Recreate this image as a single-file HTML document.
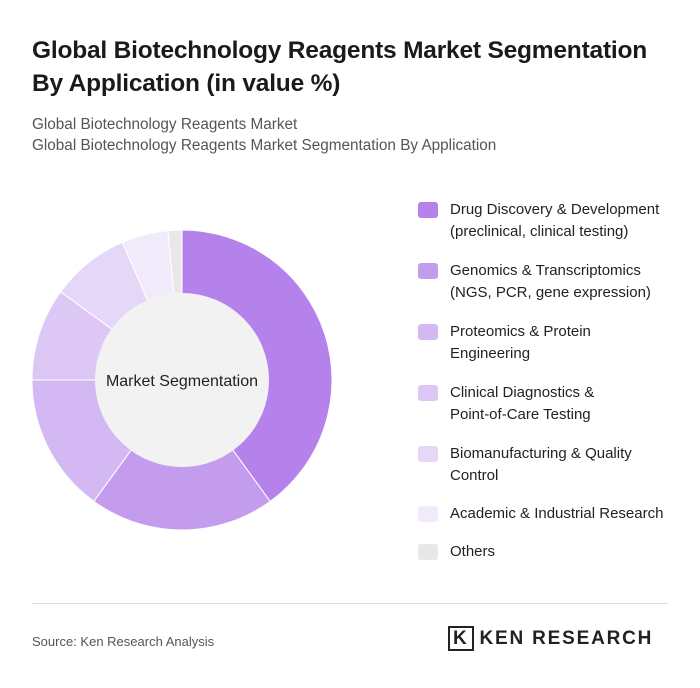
<!DOCTYPE html>
<html><head><meta charset="utf-8"><style>
body{margin:0;width:700px;height:688px;background:#fff;font-family:"Liberation Sans",sans-serif;position:relative;overflow:hidden}
.t{position:absolute;left:32px;top:34px;font-size:24.5px;font-weight:bold;color:#1a1a1a;line-height:33px;letter-spacing:-0.2px}
.s{position:absolute;left:32px;top:114px;font-size:15.3px;color:#555;line-height:21px}
.leg{position:absolute;left:418px;font-size:15px;color:#222;line-height:22px}
.sw{position:absolute;left:0;top:3px;width:20px;height:16px;border-radius:3px}
.lt{position:absolute;left:32px;white-space:nowrap}
</style></head><body>
<div class="t">Global Biotechnology Reagents Market Segmentation<br>By Application (in value %)</div>
<div class="s">Global Biotechnology Reagents Market<br>Global Biotechnology Reagents Market Segmentation By Application</div>
<svg id="c" width="700" height="688" style="position:absolute;left:0;top:0"></svg>
<div id="legend"></div>
<div style="position:absolute;left:32px;top:603px;width:636px;height:1px;background:#ddd"></div>
<div style="position:absolute;left:32px;top:634px;font-size:13px;color:#555">Source: Ken Research Analysis</div>
<div style="position:absolute;left:448px;top:628px;font-size:19px;font-weight:bold;color:#222;letter-spacing:1.8px"><span style="border:2px solid #222;padding:0 3px;margin-right:6px">K</span>KEN RESEARCH</div>
<script>
const categories=["Drug Discovery & Development (preclinical, clinical testing)","Genomics & Transcriptomics (NGS, PCR, gene expression)","Proteomics & Protein Engineering","Clinical Diagnostics & Point-of-Care Testing","Biomanufacturing & Quality Control","Academic & Industrial Research","Others"];
const legendLines=[["Drug Discovery & Development","(preclinical, clinical testing)"],["Genomics & Transcriptomics","(NGS, PCR, gene expression)"],["Proteomics & Protein","Engineering"],["Clinical Diagnostics &","Point-of-Care Testing"],["Biomanufacturing & Quality","Control"],["Academic & Industrial Research"],["Others"]];
const values=[40,20,15,10,8.5,5,1.5];
const colors=["#b482ea","#c49ced","#d4b8f3","#dcc7f5","#e5d7f8","#f1eafb","#e8e8e8"];
const svg=document.getElementById('c'),NS="http://www.w3.org/2000/svg";
const cx=182,cy=380,R=150,r=87;
const total=values.reduce((a,b)=>a+b,0);
let a0=0;
function pt(a,rad){return [cx+rad*Math.sin(a),cy-rad*Math.cos(a)];}
values.forEach((v,i)=>{
 const a1=a0+v/total*2*Math.PI,lg=(a1-a0)>Math.PI?1:0;
 const p1=pt(a0,R),p2=pt(a1,R);
 const p=document.createElementNS(NS,'path');
 p.setAttribute('d',`M${cx},${cy}L${p1[0]},${p1[1]}A${R},${R} 0 ${lg} 1 ${p2[0]},${p2[1]}Z`);
 p.setAttribute('fill',colors[i]);p.setAttribute('stroke','#fff');p.setAttribute('stroke-width','1');
 
 
 svg.appendChild(p);a0=a1;
});
const h=document.createElementNS(NS,'circle');
h.setAttribute('cx',cx);h.setAttribute('cy',cy);h.setAttribute('r',r);h.setAttribute('fill','#f2f2f2');


svg.appendChild(h);
const tx=document.createElementNS(NS,'text');
tx.setAttribute('x',cx);tx.setAttribute('y',cy+6);tx.setAttribute('text-anchor','middle');tx.setAttribute('font-size','16');tx.setAttribute('fill','#222');tx.setAttribute('font-family','Liberation Sans, sans-serif');
tx.textContent='Market Segmentation';


svg.appendChild(tx);
const tops=[199,260,321,382,443,503,541];
const L=document.getElementById('legend');
legendLines.forEach((ls,i)=>{
 const d=document.createElement('div');d.className='leg';d.style.top=tops[i]+'px';
 
 
 d.innerHTML=`<div class="sw" style="background:${colors[i]}"></div>`+ls.map((t,j)=>`<div class="lt" style="top:${j*22}px">${t.replace(/&/g,'&amp;')}</div>`).join('');
 L.appendChild(d);
});
</script>
</body></html>
